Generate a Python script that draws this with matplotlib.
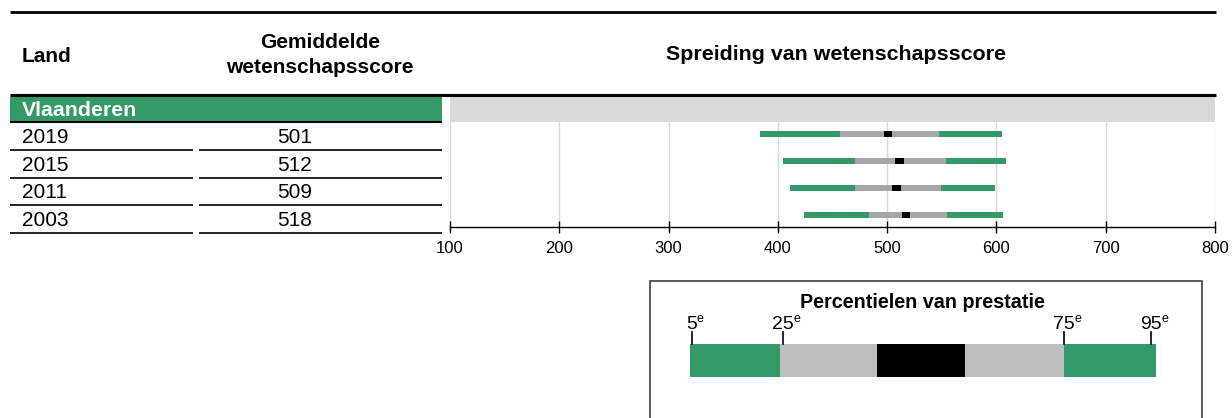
import numpy as np
import matplotlib.pyplot as plt
from matplotlib.lines import Line2D
from matplotlib.patches import Rectangle

plt.rcParams['font.family'] = ['Liberation Sans', 'DejaVu Sans']

# data
region = 'Vlaanderen'
years = ['2019', '2015', '2011', '2003']
means = [501, 512, 509, 518]
p5 = [384, 405, 411, 424]
p25 = [457, 471, 471, 483]
ci_lo = [497, 507, 504, 514]
ci_hi = [504, 515, 513, 521]
p75 = [547, 554, 549, 555]
p95 = [605, 609, 599, 606]
xticks = [100, 200, 300, 400, 500, 600, 700, 800]
pct_labels = ['5', '25', '75', '95']

GREEN = '#339966'
GREY = '#a6a6a6'
LIGHT = '#d9d9d9'

W, H = 1232, 418
fig = plt.figure(figsize=(W / 100, H / 100), dpi=100)


def fx(px):
    return px / W


def fy(py):
    return 1 - py / H


def hline(x0, x1, y, lw):
    fig.add_artist(Line2D([fx(x0), fx(x1)], [fy(y), fy(y)], color='black',
                          lw=lw, solid_capstyle='butt'))


# table part
hline(10, 1216, 12, 2.0)
fig.text(fx(22), fy(56), 'Land', fontsize=15, fontweight='bold', va='center')
fig.text(fx(320), fy(55), 'Gemiddelde\nwetenschapsscore', fontsize=15,
         fontweight='bold', ha='center', va='center', linespacing=1.45)
fig.text(fx(836), fy(55), 'Spreiding van wetenschapsscore', fontsize=15.4,
         fontweight='bold', ha='center', va='center')
hline(10, 1216, 95, 2.2)

fig.add_artist(Rectangle((fx(10), fy(121)), fx(442) - fx(10), 24.5 / H,
                         transform=fig.transFigure, color=GREEN, lw=0))
fig.text(fx(22), fy(110.5), region, fontsize=15.3, fontweight='bold',
         color='white', va='center')
hline(10, 442, 121.7, 1.5)

for i, (yr, m) in enumerate(zip(years, means)):
    y = 136 + 27.7 * i
    fig.text(fx(22), fy(y + 1.5), yr, fontsize=15, va='center')
    fig.text(fx(295), fy(y + 1.5), str(m), fontsize=15, ha='center', va='center')
    hline(10, 193, y + 14, 1.2)
    hline(199, 442, y + 14, 1.2)

# spreiding chart
ax = fig.add_axes([fx(450), fy(226.7), (1215 - 450) / W, 130 / H])
ypos = np.arange(len(years)) + 1.38
ax.axhspan(0, 0.94, color=LIGHT, lw=0, zorder=1)
ax.barh(ypos, np.subtract(p25, p5), left=p5, height=0.22, color=GREEN, zorder=2)
ax.barh(ypos, np.subtract(p75, p25), left=p25, height=0.22, color=GREY, zorder=2)
ax.barh(ypos, np.subtract(p95, p75), left=p75, height=0.22, color=GREEN, zorder=2)
ax.barh(ypos, np.subtract(ci_hi, ci_lo), left=ci_lo, height=0.22, color='black', zorder=3)
ax.set_xlim(100, 800)
ax.set_ylim(4.815, 0)
ax.set_xticks(xticks)
ax.set_yticks([])
ax.grid(axis='x', color=LIGHT, lw=1)
ax.set_axisbelow(True)
for s in ['top', 'left', 'right']:
    ax.spines[s].set_visible(False)
ax.spines['bottom'].set_linewidth(1.0)
ax.tick_params(axis='x', direction='inout', length=9, width=1, labelsize=12, pad=6)

# legend
fig.add_artist(Rectangle((fx(650), fy(440)), (1202 - 650) / W, (440 - 281) / H,
                         transform=fig.transFigure, fill=False, ec='#404040', lw=1.2))
fig.text(fx(922), fy(302), 'Percentielen van prestatie', fontsize=14.2,
         fontweight='bold', ha='center', va='center')
lax = fig.add_axes([fx(690), fy(377), 466 / W, 33 / H])
lax.set_xlim(0, 1)
lax.set_ylim(0, 1)
lax.axis('off')
legend_breaks = [0, 0.193, 0.401, 0.590, 0.803, 1.0]
legend_colors = [GREEN, '#bfbfbf', 'black', '#bfbfbf', GREEN]
lax.barh(0.5, np.diff(legend_breaks), left=legend_breaks[:-1], height=1,
         color=legend_colors)
tick_pos = [0.004, 0.2, 0.803, 0.99]
for pos, lab in zip(tick_pos, pct_labels):
    lax.plot([pos, pos], [1, 1.36], color='black', lw=1.2, clip_on=False)
    t = lax.text(pos, 1.6, lab, fontsize=14, ha='center', va='center')
    lax.annotate('e', xy=(0.96, 1.18), xycoords=t, ha='left', va='top', fontsize=9)

fig.savefig('out.png', dpi=100)
